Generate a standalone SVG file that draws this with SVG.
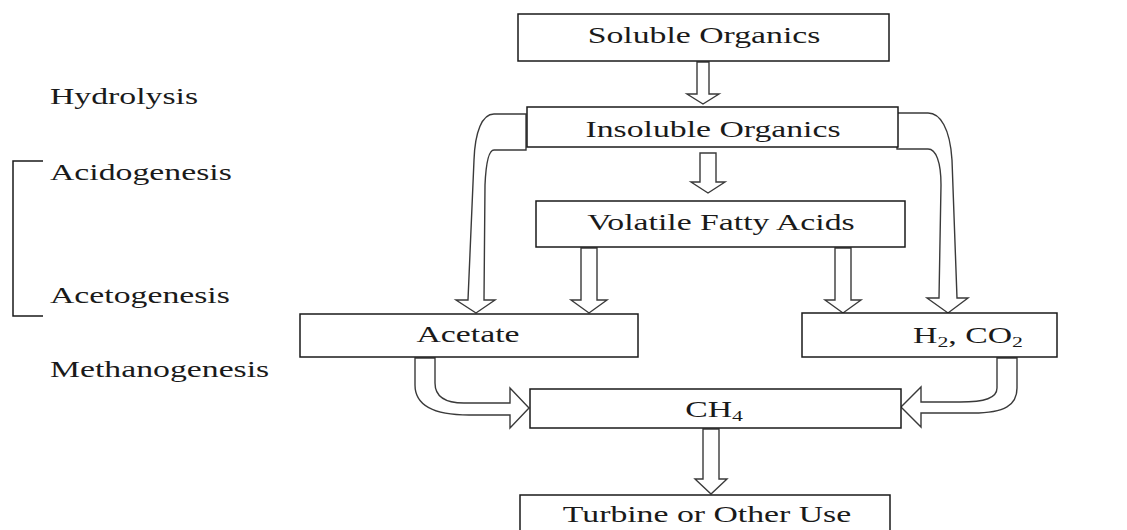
<svg xmlns="http://www.w3.org/2000/svg" width="1127" height="530" viewBox="0 0 1127 530">
  <style>
    .box { fill: #ffffff; stroke: #1a1a1a; stroke-width: 1.5; }
    .arrow { fill: #ffffff; stroke: #3a3a3a; stroke-width: 1.4; stroke-linejoin: miter; }
    .txt { font-family: "Liberation Serif", "Times New Roman", serif; font-size: 22.5px; fill: #1a1a1a; }
    .mid { text-anchor: middle; }
    .bracket { fill: none; stroke: #1a1a1a; stroke-width: 1.5; }
  </style>

  <rect width="1127" height="530" fill="#ffffff"/>

  <!-- stage labels on the left -->
  <g id="stage-labels">
    <text class="txt" transform="translate(50,104) scale(1.5,1)">Hydrolysis</text>
    <text class="txt" transform="translate(50,180) scale(1.5,1)">Acidogenesis</text>
    <text class="txt" transform="translate(50,303) scale(1.5,1)">Acetogenesis</text>
    <text class="txt" transform="translate(50,377) scale(1.5,1)">Methanogenesis</text>
    <path class="bracket" d="M43,161 L13,161 L13,316 L43,316"/>
  </g>

  <!-- block arrows between the stages -->
  <g id="connectors">
    <path class="arrow" d="M697,62 L709,62 L709,94 L719,94 L703,104 L687,94 L697,94 Z"/>
    <path class="arrow" d="M700,153 L716,153 L716,182 L725,182 L708,193 L691,182 L700,182 Z"/>
    <path class="arrow" d="M581,248 L597,248 L597,300 L607,300 L589,313 L571,300 L581,300 Z"/>
    <path class="arrow" d="M835,248 L851,248 L851,300 L861,300 L843,313 L825,300 L835,300 Z"/>
    <path class="arrow" d="M703,429 L719,429 L719,479 L727,479 L711,494 L695,479 L703,479 Z"/>
    <!-- bypass from insoluble organics to acetate -->
    <path class="arrow" d="M526,114 L494,114 C482,114 475,132 474,160 L468,300 L456,300 L476,313 L495,300 L484,300 L485,185 C486,162 489,150 494,150 L526,150 Z"/>
    <!-- bypass from insoluble organics to H2, CO2 -->
    <path class="arrow" d="M897,113 L928,113 C940,113 950,128 952,160 L957,298 L968,298 L948,313 L927,298 L939,298 L941,185 C941,162 936,149 928,149 L897,149 Z"/>
    <!-- acetate to methane -->
    <path class="arrow" d="M415,358 L415,385 C415,405 432,415 469,415 L510,415 L510,428 L529,408 L510,388 L510,403 L464,403 C445,403 435,396 435,383 L435,358 Z"/>
    <!-- hydrogen / carbon dioxide to methane -->
    <path class="arrow" d="M997,358 L997,388 C997,398 985,402 960,402 L921,402 L921,387 L901,407 L921,427 L921,413 L973,413 C1005,413 1017,405 1017,388 L1017,358 Z"/>
  </g>

  <g id="soluble-organics">
    <rect class="box" x="518" y="14" width="371" height="47"/>
    <text class="txt mid" transform="translate(704,43) scale(1.5,1)">Soluble Organics</text>
  </g>

  <g id="insoluble-organics">
    <rect class="box" x="527" y="107" width="371" height="40"/>
    <text class="txt mid" transform="translate(713,137) scale(1.5,1)">Insoluble Organics</text>
  </g>

  <g id="volatile-fatty-acids">
    <rect class="box" x="536" y="201" width="369" height="46"/>
    <text class="txt mid" transform="translate(721,230) scale(1.5,1)">Volatile Fatty Acids</text>
  </g>

  <g id="acetate">
    <rect class="box" x="300" y="314" width="338" height="43"/>
    <text class="txt mid" transform="translate(468,342) scale(1.5,1)">Acetate</text>
  </g>

  <g id="h2-co2">
    <rect class="box" x="802" y="313" width="255" height="44"/>
    <text class="txt mid" transform="translate(968,343) scale(1.5,1)">H<tspan font-size="14.5" dy="4">2</tspan><tspan dy="-4">, CO</tspan><tspan font-size="14.5" dy="4">2</tspan></text>
  </g>

  <g id="methane">
    <rect class="box" x="530" y="389" width="371" height="39"/>
    <text class="txt mid" transform="translate(714,417) scale(1.5,1)">CH<tspan font-size="14.5" dy="4">4</tspan></text>
  </g>

  <g id="turbine">
    <rect class="box" x="520" y="495" width="370" height="45"/>
    <text class="txt mid" transform="translate(707,522) scale(1.5,1)">Turbine or Other Use</text>
  </g>
</svg>
